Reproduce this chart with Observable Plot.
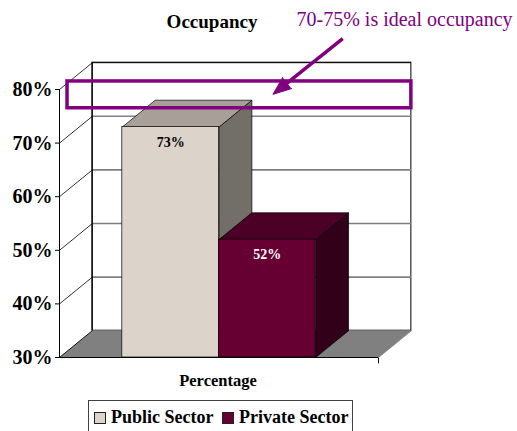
<!DOCTYPE html>
<html>
<head>
<meta charset="utf-8">
<script src="https://cdn.jsdelivr.net/npm/d3@7"></script>
<script src="https://cdn.jsdelivr.net/npm/@observablehq/plot@0.6"></script>
<style>
  body { margin: 0; background: #fff; font-family: "Liberation Serif", "Times New Roman", "DejaVu Serif", serif; }
  #wrap { position: relative; width: 517px; height: 431px; overflow: hidden; }
  #wrap svg, #wrap svg text { font-family: "Liberation Serif", "Times New Roman", "DejaVu Serif", serif !important; }
  #legend { position: absolute; left: 88px; top: 400px; width: 265px; height: 44px;
            border: 1px solid #404040; box-sizing: border-box; background: #fff; }
  .item { position: absolute; top: 5px; font-weight: bold; font-size: 18px; line-height: 22px; white-space: nowrap; }
  .sw { display: inline-block; width: 10px; height: 10px; border: 1px solid #222; margin-right: 5px; vertical-align: -1px; }
</style>
</head>
<body>
<div id="wrap"></div>
<script>
// ---- data ----
const categories = ["Public Sector", "Private Sector"];
const values = [73, 52];
const frontColors = ["#DCD3CA", "#660033"];
const topColors = ["#A8A098", "#4D0026"];
const sideColors = ["#726E68", "#33001A"];
const labelColors = ["black", "white"];
const yTicks = [30, 40, 50, 60, 70, 80];
const idealBand = [76.5, 81.5];          // purple box as drawn in the source
const arrowStart = [2.93, 89.5];
const arrowEnd = [2.21, 79.1];
const titleText = "Occupancy";
const noteText = "70-75% is ideal occupancy";
const xLabel = "Percentage";

// ---- 3D geometry (category units / percent units) ----
const GAP = 0.65, W = 3.3, DX = 0.34, DY = 5, BASE = 30, TOP = 80;
const purple = "#800080";

const poly = pts => pts.concat([pts[0]]).map(([x, y]) => ({x, y}));

const barMarks = values.flatMap((v, i) => {
  const x0 = GAP + i, x1 = x0 + 1;
  return [
    Plot.line(poly([[x1, v], [x1 + DX, v + DY], [x1 + DX, BASE + DY], [x1, BASE]]),
      {x: "x", y: "y", fill: sideColors[i], stroke: "black", strokeWidth: 0.7}),
    Plot.line(poly([[x0, v], [x1, v], [x1 + DX, v + DY], [x0 + DX, v + DY]]),
      {x: "x", y: "y", fill: topColors[i], stroke: "black", strokeWidth: 0.7}),
    Plot.rect([v], {x1: () => x0, x2: () => x1, y1: () => BASE, y2: d => d,
      fill: frontColors[i], stroke: "black", strokeWidth: 0.7}),
    Plot.text([v], {x: () => (x0 + x1) / 2, y: d => d, dy: 15, text: d => d + "%",
      fill: labelColors[i], fontWeight: "bold", fontSize: 14})
  ];
});

const gridInner = yTicks.filter(t => t > BASE && t < TOP);
const headFrac = 0.85;

const chart = Plot.plot({
  width: 517, height: 398,
  marginLeft: 59, marginRight: 139, marginTop: 89, marginBottom: 41,
  x: {domain: [0, W], axis: null},
  y: {domain: [BASE, TOP], axis: null},
  style: "font-family: 'Liberation Serif', 'Times New Roman', serif; background: white; color: black; overflow: visible;",
  marks: [
    // back wall
    Plot.rect([0], {x1: () => DX, x2: () => W + DX, y1: () => BASE + DY, y2: () => TOP + DY, fill: "white", stroke: "black", strokeWidth: 1}),
    Plot.ruleY(gridInner, {y: d => d + DY, x1: () => DX, x2: () => W + DX, stroke: "#808080", strokeWidth: 1.6}),
    Plot.ruleY([TOP], {y: d => d + DY, x1: () => DX, x2: () => W + DX, stroke: "black", strokeWidth: 1}),
    // floor
    Plot.line(poly([[0, BASE], [W, BASE], [W + DX, BASE + DY], [DX, BASE + DY]]),
      {x: "x", y: "y", fill: "#808080", stroke: "#808080", strokeWidth: 0.8}),
    // side wall lines
    Plot.link(yTicks, {x1: () => 0, y1: d => d, x2: () => DX, y2: d => d + DY, stroke: "black", strokeWidth: 0.8}),
    Plot.ruleX([DX], {y1: BASE + DY, y2: TOP + DY, stroke: "black", strokeWidth: 1}),
    // bars
    ...barMarks,
    // front axis
    Plot.ruleX([0], {y1: BASE, y2: TOP, stroke: "black", strokeWidth: 1}),
    Plot.ruleY([BASE], {x1: () => 0, x2: () => W, stroke: "black", strokeWidth: 1.2}),
    Plot.link([W], {x1: d => d, x2: d => d, y1: () => BASE, y2: () => BASE - 1.1, stroke: "black", strokeWidth: 1}),
    Plot.axisY({ticks: yTicks, tickFormat: d => d + "%", tickSize: 4, tickPadding: 3, label: null,
      fontSize: 20, fontWeight: "bold", stroke: "black", fill: "black"}),
    // annotation
    Plot.rect([idealBand], {x1: () => 0.083, x2: () => W + DX, y1: d => d[0], y2: d => d[1],
      fill: "none", stroke: purple, strokeWidth: 3.5}),
    Plot.link([0], {
      x1: () => arrowStart[0], y1: () => arrowStart[1],
      x2: () => arrowStart[0] + headFrac * (arrowEnd[0] - arrowStart[0]),
      y2: () => arrowStart[1] + headFrac * (arrowEnd[1] - arrowStart[1]),
      stroke: purple, strokeWidth: 3.5}),
    Plot.vector([arrowEnd], {x: d => d[0], y: d => d[1], shape: "spike", anchor: "end",
      length: 18, r: 7, rotate: 231, fill: purple, stroke: purple, strokeWidth: 1}),
    // texts
    Plot.text([titleText], {frameAnchor: "top", dx: -7, dy: -67.5, text: d => d, fontSize: 19, fontWeight: "bold", lineAnchor: "middle"}),
    Plot.text([noteText], {frameAnchor: "top-left", dx: 237, dy: -69.5, text: d => d, fontSize: 20, fill: purple, textAnchor: "start", lineAnchor: "middle"}),
    Plot.text([xLabel], {frameAnchor: "bottom", dx: -1, dy: 23, text: d => d, fontSize: 16.5, fontWeight: "bold", lineAnchor: "middle"})
  ]
});

const wrap = document.getElementById("wrap");
wrap.appendChild(chart);

// legend built from the same arrays
const legend = document.createElement("div");
legend.id = "legend";
const lefts = [5, 133];
categories.forEach((c, i) => {
  const it = document.createElement("div");
  it.className = "item";
  it.style.left = lefts[i] + "px";
  const sw = document.createElement("span");
  sw.className = "sw";
  sw.style.background = frontColors[i];
  it.appendChild(sw);
  it.appendChild(document.createTextNode(c));
  legend.appendChild(it);
});
wrap.appendChild(legend);
</script>
</body>
</html>
